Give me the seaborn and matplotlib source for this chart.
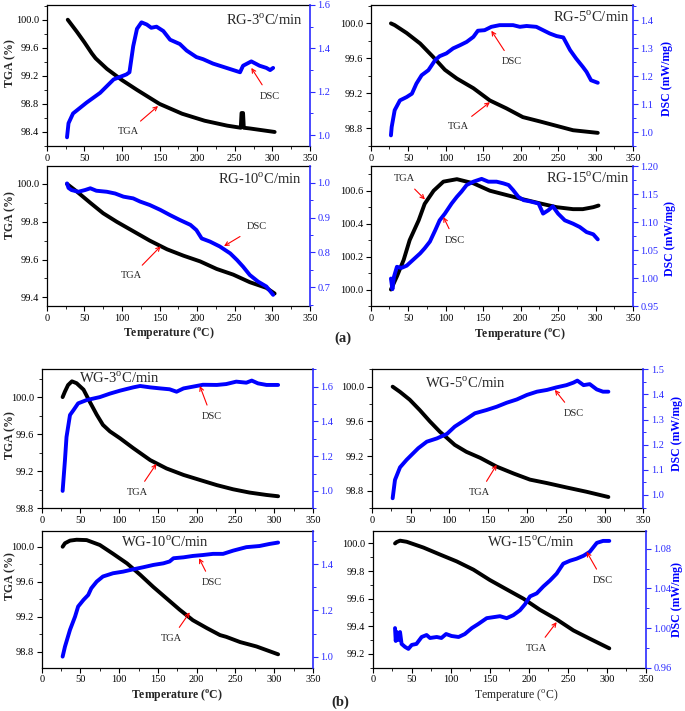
import matplotlib
matplotlib.use("Agg")
import matplotlib.pyplot as plt
import seaborn as sns
from matplotlib.ticker import MultipleLocator, AutoMinorLocator, FormatStrFormatter

sns.set_style("ticks")
plt.rcParams['font.family'] = ['Liberation Serif', 'DejaVu Serif']
plt.rcParams['mathtext.fontset'] = 'custom'
plt.rcParams['mathtext.rm'] = 'Liberation Serif'
plt.rcParams['mathtext.bf'] = 'Liberation Serif:bold'

# ---------------- data ----------------
# RG-3
rg3_tga_T = [28, 40, 50, 60, 65, 80, 100, 120, 150, 180, 210, 240, 258, 259, 261, 262, 270, 303]
rg3_tga = [100.0, 99.83, 99.68, 99.52, 99.45, 99.30, 99.14, 99.0, 98.8, 98.66, 98.56, 98.49, 98.46, 98.67, 98.67, 98.46, 98.45, 98.4]
rg3_dsc_T = [27, 29, 35, 53, 71, 89, 106, 110, 115, 120, 126, 133, 139, 146, 155, 164, 177, 186, 199, 208, 221, 239, 257, 261, 272, 283, 292, 297, 301]
rg3_dsc = [0.99, 1.055, 1.10, 1.15, 1.195, 1.257, 1.28, 1.29, 1.41, 1.49, 1.52, 1.51, 1.495, 1.50, 1.48, 1.44, 1.42, 1.39, 1.36, 1.35, 1.33, 1.31, 1.29, 1.32, 1.34, 1.32, 1.31, 1.30, 1.31]
# RG-5
rg5_tga_T = [27, 32, 48, 66, 83, 99, 115, 137, 159, 181, 203, 226, 248, 270, 303]
rg5_tga = [100.0, 99.98, 99.89, 99.77, 99.62, 99.47, 99.37, 99.26, 99.12, 99.03, 98.93, 98.88, 98.83, 98.78, 98.75]
rg5_dsc_T = [27, 28, 32, 39, 48, 55, 61, 68, 77, 86, 92, 101, 110, 119, 128, 137, 143, 152, 161, 172, 190, 199, 208, 221, 230, 239, 248, 257, 266, 274, 283, 288, 294, 303]
rg5_dsc = [0.988, 1.018, 1.078, 1.113, 1.125, 1.137, 1.173, 1.203, 1.221, 1.257, 1.271, 1.281, 1.299, 1.31, 1.322, 1.34, 1.362, 1.364, 1.376, 1.382, 1.382, 1.376, 1.379, 1.376, 1.364, 1.352, 1.343, 1.338, 1.293, 1.263, 1.233, 1.215, 1.185, 1.176]
# RG-10
rg10_tga_T = [27, 40, 58, 75, 93, 115, 137, 160, 182, 204, 226, 248, 270, 292, 303]
rg10_tga = [100.0, 99.96, 99.90, 99.845, 99.80, 99.75, 99.70, 99.654, 99.62, 99.59, 99.55, 99.52, 99.48, 99.45, 99.42]
rg10_dsc_T = [27, 29, 33, 42, 51, 58, 66, 80, 91, 102, 115, 124, 137, 151, 164, 177, 191, 199, 206, 217, 230, 244, 253, 261, 270, 281, 292, 301]
rg10_dsc = [0.998, 0.985, 0.979, 0.974, 0.979, 0.984, 0.977, 0.974, 0.969, 0.96, 0.955, 0.946, 0.936, 0.922, 0.907, 0.893, 0.879, 0.864, 0.84, 0.831, 0.817, 0.797, 0.778, 0.759, 0.735, 0.716, 0.702, 0.678]
# RG-15
rg15_tga_T = [27, 35, 44, 52, 64, 72, 84, 97, 115, 137, 159, 181, 204, 226, 248, 270, 283, 297, 304]
rg15_tga = [100.0, 100.08, 100.18, 100.3, 100.42, 100.52, 100.60, 100.655, 100.67, 100.645, 100.60, 100.574, 100.547, 100.523, 100.5, 100.488, 100.488, 100.5, 100.51]
rg15_dsc_T = [27, 29, 31, 35, 41, 48, 57, 66, 72, 79, 86, 92, 99, 108, 115, 121, 128, 137, 148, 157, 168, 177, 184, 190, 197, 204, 212, 224, 230, 237, 243, 250, 259, 270, 279, 288, 297, 303]
rg15_dsc = [0.999, 0.98, 1.002, 1.02, 1.018, 1.022, 1.033, 1.044, 1.053, 1.065, 1.085, 1.103, 1.115, 1.133, 1.145, 1.154, 1.166, 1.172, 1.177, 1.172, 1.172, 1.169, 1.166, 1.157, 1.145, 1.139, 1.137, 1.133, 1.115, 1.121, 1.128, 1.115, 1.103, 1.097, 1.091, 1.082, 1.078, 1.069]
# WG-3
wg3_tga_T = [27, 30, 34, 39, 45, 54, 62, 71, 79, 88, 101, 118, 140, 161, 183, 204, 226, 247, 268, 290, 305]
wg3_tga = [100.0, 100.06, 100.13, 100.17, 100.15, 100.08, 99.95, 99.81, 99.70, 99.63, 99.556, 99.45, 99.32, 99.23, 99.16, 99.106, 99.05, 99.005, 98.97, 98.944, 98.93]
wg3_dsc_T = [27, 30, 32, 36.5, 41, 47, 58, 75, 88, 101, 118, 127, 140, 153, 165, 174, 183, 195, 208, 226, 238, 251, 264, 271, 279, 290, 305]
wg3_dsc = [1.0, 1.177, 1.31, 1.437, 1.465, 1.504, 1.523, 1.54, 1.56, 1.577, 1.596, 1.604, 1.596, 1.59, 1.585, 1.571, 1.59, 1.6, 1.611, 1.61, 1.615, 1.629, 1.623, 1.635, 1.619, 1.61, 1.61]
# WG-5
wg5_tga_T = [27, 36.5, 49, 62, 75, 88, 97, 107, 122, 140, 161, 183, 204, 226, 251, 277, 305]
wg5_tga = [100.0, 99.94, 99.85, 99.73, 99.6, 99.48, 99.41, 99.33, 99.25, 99.18, 99.08, 99.0, 98.93, 98.89, 98.84, 98.79, 98.73]
wg5_dsc_T = [27, 30, 36.5, 45, 51.5, 60, 71, 84, 97, 107, 120, 133, 148, 161, 174, 187, 200, 213, 226, 238, 251, 260, 265, 273, 281, 290, 298, 305]
wg5_dsc = [0.987, 1.06, 1.11, 1.14, 1.16, 1.186, 1.212, 1.225, 1.243, 1.272, 1.298, 1.325, 1.338, 1.351, 1.367, 1.38, 1.398, 1.411, 1.418, 1.428, 1.437, 1.447, 1.455, 1.437, 1.441, 1.42, 1.411, 1.411]
# WG-10
wg10_tga_T = [27, 30, 36.5, 45, 58, 75, 92, 110, 127, 144, 161, 178, 195, 213, 230, 238, 256, 277, 305]
wg10_tga = [100.0, 100.04, 100.07, 100.08, 100.076, 100.02, 99.92, 99.81, 99.68, 99.54, 99.41, 99.28, 99.16, 99.07, 98.99, 98.97, 98.91, 98.86, 98.77]
wg10_dsc_T = [27, 30, 36.5, 43, 47, 54, 60, 64, 71, 79, 92, 105, 118, 131, 144, 157, 165, 170, 183, 195, 208, 221, 234, 247, 264, 281, 294, 305]
wg10_dsc = [1.0, 1.043, 1.116, 1.173, 1.217, 1.246, 1.267, 1.296, 1.325, 1.347, 1.361, 1.368, 1.378, 1.387, 1.397, 1.404, 1.412, 1.426, 1.43, 1.436, 1.44, 1.445, 1.445, 1.459, 1.474, 1.479, 1.488, 1.494]
# WG-15
wg15_tga_T = [28.6, 30.7, 35, 43.5, 65, 86, 107.5, 129, 150, 171.6, 193, 214, 235.6, 257, 278, 303]
wg15_tga = [100.0, 100.01, 100.02, 100.012, 99.97, 99.92, 99.87, 99.81, 99.735, 99.667, 99.6, 99.52, 99.45, 99.37, 99.31, 99.24]
wg15_dsc_T = [28.6, 29.5, 30.7, 32.9, 35, 37, 41.4, 45.7, 50, 56, 62.7, 69, 73.4, 82, 88, 94, 101, 110, 118, 127, 135, 146, 154.5, 163, 171.6, 180, 188.6, 195, 201.5, 210, 218.5, 227, 235.6, 244, 252.7, 261, 270, 278, 287, 295, 303]
wg15_dsc = [1.0, 0.987, 0.996, 0.988, 0.996, 0.984, 0.981, 0.979, 0.983, 0.984, 0.991, 0.993, 0.99, 0.991, 0.99, 0.994, 0.992, 0.991, 0.994, 1.0, 1.004, 1.01, 1.011, 1.012, 1.01, 1.013, 1.018, 1.024, 1.032, 1.035, 1.042, 1.048, 1.055, 1.065, 1.068, 1.07, 1.073, 1.077, 1.086, 1.088, 1.088]

W, H = 685, 711
fig = plt.figure(figsize=(W / 100, H / 100), dpi=100)

BLUE = '#0000ff'
AXBLUE = '#2a2aff'


def make_panel(rect, tT, tv, dT, dv, title, title_xy, title_ha,
               ylim_l, ystep_l, ylim_r, ystep_r, rfmt,
               tga_ann, dsc_ann, ylab=None, rlab=None, xlab=None, xlab_bold=True):
    l, t, r, b = rect
    ax = fig.add_axes([l / W, 1 - b / H, (r - l) / W, (b - t) / H])
    ax2 = ax.twinx()
    sns.lineplot(x=tT, y=tv, ax=ax, color='black', linewidth=2.8,
                 estimator=None, sort=False)
    sns.lineplot(x=dT, y=dv, ax=ax2, color=BLUE, linewidth=2.8,
                 estimator=None, sort=False)
    ax.set_xlim(0, 350)
    ax.set_ylim(*ylim_l)
    ax2.set_ylim(*ylim_r)
    ax.xaxis.set_major_locator(MultipleLocator(50))
    ax.xaxis.set_minor_locator(AutoMinorLocator(2))
    ax.yaxis.set_major_locator(MultipleLocator(ystep_l))
    ax.yaxis.set_minor_locator(AutoMinorLocator(2))
    ax.yaxis.set_major_formatter(FormatStrFormatter('%.1f'))
    ax2.yaxis.set_major_locator(MultipleLocator(ystep_r))
    ax2.yaxis.set_minor_locator(AutoMinorLocator(2))
    ax2.yaxis.set_major_formatter(FormatStrFormatter(rfmt))
    for a in (ax, ax2):
        a.set_xlabel('')
        a.set_ylabel('')
    ax.tick_params(axis='both', which='major', direction='out', length=3.5,
                   width=0.8, labelsize=7.5, colors='black', pad=2)
    ax.tick_params(axis='both', which='minor', direction='out', length=2,
                   width=0.7)
    ax2.tick_params(axis='y', which='major', direction='out', length=3.5,
                    width=0.8, labelsize=7.5, colors=AXBLUE, pad=2)
    ax2.tick_params(axis='y', which='minor', direction='out', length=2,
                    width=0.7, colors=AXBLUE)
    ax.spines['right'].set_visible(False)
    for s in ('left', 'top', 'bottom'):
        ax2.spines[s].set_visible(False)
    for s in ('left', 'top', 'bottom'):
        ax.spines[s].set_color('black')
        ax.spines[s].set_linewidth(0.9)
    ax2.spines['right'].set_color(AXBLUE)
    ax2.spines['right'].set_linewidth(1.2)
    ax.spines['top'].set_visible(True)

    ax.text(title_xy[0], title_xy[1], title, transform=ax.transAxes,
            ha=title_ha, va='center', fontsize=10.5)

    # annotations
    (tx, ty), (px, py) = tga_ann
    ax.annotate('TGA', xy=(px, py), xytext=(tx, ty), fontsize=7.5,
                ha='center', va='center',
                arrowprops=dict(arrowstyle='->', color='red', lw=0.8,
                                shrinkA=3, shrinkB=0, mutation_scale=7))
    (tx, ty), (px, py) = dsc_ann
    ax2.annotate('DSC', xy=(px, py), xytext=(tx, ty), fontsize=7.5,
                 ha='center', va='center',
                 arrowprops=dict(arrowstyle='->', color='red', lw=0.8,
                                 shrinkA=3, shrinkB=0, mutation_scale=7))
    if ylab is not None:
        ax.set_ylabel('TGA (%)', fontsize=8.5, fontweight='bold')
        ax.yaxis.set_label_coords(*ylab)
    if rlab is not None:
        ax2.set_ylabel('DSC (mW/mg)', fontsize=8.5, fontweight='bold',
                       color=BLUE)
        ax2.yaxis.set_label_coords(*rlab)
    if xlab is not None:
        if xlab_bold:
            ax.set_xlabel(r'Temperature ($^{\bf o}$C)', fontsize=8.5,
                          fontweight='bold')
        else:
            ax.set_xlabel(r'Temperature ($^{\rm o}$C)', fontsize=8.5)
        ax.xaxis.set_label_coords(*xlab)
    return ax, ax2


# RG-3
make_panel((46.7, 5, 310, 146), rg3_tga_T, rg3_tga, rg3_dsc_T, rg3_dsc,
           r'RG-3$^{\rm o}$C/min', (0.973, 0.894), 'right',
           (98.2, 100.21), 0.4, (0.95, 1.6), 0.2, '%.1f',
           ((108.5, 98.405), (148, 98.77)), ((296, 1.18), (272, 1.31)),
           ylab=(-0.117, 0.59))
# RG-5
make_panel((370.7, 5, 633, 146), rg5_tga_T, rg5_tga, rg5_dsc_T, rg5_dsc,
           r'RG-5$^{\rm o}$C/min', (0.985, 0.917), 'right',
           (98.6, 100.21), 0.4, (0.95, 1.454), 0.1, '%.1f',
           ((117, 98.82), (159, 99.1)), ((188, 1.251), (161, 1.362)),
           rlab=(1.107, 0.48))
# RG-10
make_panel((46.7, 166, 310, 306), rg10_tga_T, rg10_tga, rg10_dsc_T, rg10_dsc,
           r'RG-10$^{\rm o}$C/min', (0.968, 0.905), 'right',
           (99.354, 100.095), 0.2, (0.646, 1.048), 0.1, '%.1f',
           ((113, 99.513), (151.5, 99.67)), ((279, 0.874), (235.7, 0.818)),
           ylab=(-0.117, 0.65), xlab=(0.463, -0.143))
# RG-15
make_panel((370.7, 166, 633, 306), rg15_tga_T, rg15_tga, rg15_dsc_T, rg15_dsc,
           r'RG-15$^{\rm o}$C/min', (0.988, 0.912), 'right',
           (99.9, 100.75), 0.2, (0.95, 1.20), 0.05, '%.2f',
           ((44.4, 100.675), (72.4, 100.547)), ((112, 1.0675), (97, 1.109)),
           rlab=(1.118, 0.48), xlab=(0.569, -0.152))
# WG-3
make_panel((41.7, 369.3, 313, 508.3), wg3_tga_T, wg3_tga, wg3_dsc_T, wg3_dsc,
           r'WG-3$^{\rm o}$C/min', (0.285, 0.937), 'center',
           (98.8, 100.3), 0.4, (0.9, 1.7), 0.2, '%.1f',
           ((123, 98.97), (148, 99.28)), ((219, 1.427), (204, 1.604)),
           ylab=(-0.095, 0.53))
# WG-5
make_panel((371.7, 369.3, 643.3, 508.3), wg5_tga_T, wg5_tga, wg5_dsc_T, wg5_dsc,
           r'WG-5$^{\rm o}$C/min', (0.343, 0.90), 'center',
           (98.6, 100.2), 0.4, (0.947, 1.5), 0.1, '%.1f',
           ((139, 98.78), (161, 99.1)), ((260, 1.325), (236, 1.418)),
           rlab=(1.101, 0.54))
# WG-10
make_panel((41.7, 531, 313, 667.7), wg10_tga_T, wg10_tga, wg10_dsc_T, wg10_dsc,
           r'WG-10$^{\rm o}$C/min', (0.453, 0.92), 'center',
           (98.617, 100.18), 0.4, (0.952, 1.544), 0.2, '%.1f',
           ((167.5, 98.95), (191, 99.25)), ((219, 1.32), (203, 1.426)),
           ylab=(-0.095, 0.67), xlab=(0.50, -0.151))
# WG-15
make_panel((372.7, 531, 646, 667.7), wg15_tga_T, wg15_tga, wg15_dsc_T, wg15_dsc,
           r'WG-15$^{\rm o}$C/min', (0.579, 0.92), 'center',
           (99.1, 100.09), 0.2, (0.96, 1.098), 0.04, '%.2f',
           ((210, 99.24), (235.6, 99.43)), ((295, 1.048), (274, 1.077)),
           rlab=(1.09, 0.50), xlab=(0.527, -0.151), xlab_bold=False)

fig.text(343 / W, 1 - 338 / H, '(a)', ha='center', va='center',
         fontsize=10.5, fontweight='bold')
fig.text(340 / W, 1 - 702 / H, '(b)', ha='center', va='center',
         fontsize=10.5, fontweight='bold')

fig.savefig('out.png', dpi=100)
